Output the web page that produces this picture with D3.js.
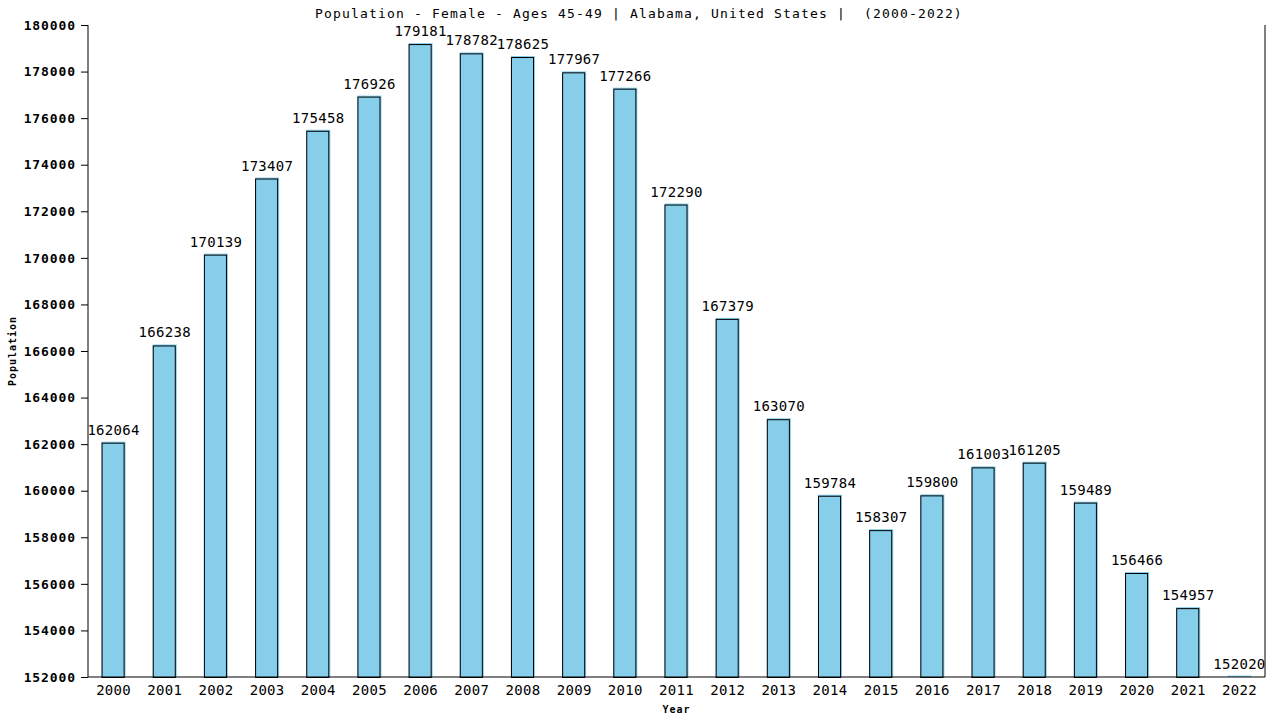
<!DOCTYPE html>
<html>
<head>
<meta charset="utf-8">
<script src="https://cdn.jsdelivr.net/npm/d3@7"></script>
<style>
  body { margin: 0; background: #fff; }
  text { font-family: "DejaVu Sans Mono", monospace; }
</style>
</head>
<body>
<div id="chart"></div>
<script>
// Chart data
const years = ["2000", "2001", "2002", "2003", "2004", "2005", "2006", "2007", "2008", "2009", "2010", "2011",
    "2012", "2013", "2014", "2015", "2016", "2017", "2018", "2019", "2020", "2021", "2022"];
const population = [162064, 166238, 170139, 173407, 175458, 176926, 179181, 178782, 178625, 177967, 177266, 172290,
    167379, 163070, 159784, 158307, 159800, 161003, 161205, 159489, 156466, 154957, 152020];
const yTicks = [152000, 154000, 156000, 158000, 160000, 162000, 164000, 166000, 168000, 170000, 172000, 174000,
    176000, 178000, 180000];

const width = 1280;
const height = 720;
const margin = { top: 25, right: 15, bottom: 43, left: 88 };

const svg = d3.select("#chart")
    .append("svg")
    .attr("width", width)
    .attr("height", height);

const x = d3.scaleBand()
    .domain(years)
    .range([margin.left, width - margin.right])
    .paddingInner(0.53)
    .paddingOuter(0.265);

const y = d3.scaleLinear()
    .domain([152000, 180000])
    .range([height - margin.bottom, margin.top]);

const data = years.map((yr, i) => ({ year: yr, value: population[i] }));

// Bars: blue fill with a black outline sitting slightly inside
svg.selectAll("rect.bar")
    .data(data)
    .enter()
    .append("rect")
    .attr("class", "bar")
    .attr("x", d => x(d.year))
    .attr("y", d => y(d.value) - 1)
    .attr("width", x.bandwidth())
    .attr("height", d => y(152000) - y(d.value) + 1)
    .attr("fill", "#87CEEB");

svg.selectAll("rect.outline")
    .data(data.filter(d => y(152000) - y(d.value) > 2))
    .enter()
    .append("rect")
    .attr("class", "outline")
    .attr("x", d => x(d.year) + 0.5)
    .attr("y", d => y(d.value) + 0.5)
    .attr("width", x.bandwidth() - 2)
    .attr("height", d => y(152000) - y(d.value))
    .attr("fill", "none")
    .attr("stroke", "#000")
    .attr("stroke-width", 1);

// Value labels
svg.selectAll("text.value")
    .data(data)
    .enter()
    .append("text")
    .attr("class", "value")
    .attr("x", d => x(d.year) + x.bandwidth() / 2)
    .attr("y", d => y(d.value) - 8)
    .attr("text-anchor", "middle")
    .attr("font-size", "14px")
    .attr("letter-spacing", "0.3px")
    .attr("fill", "#000")
    .text(d => d.value);

// Y axis
const yAxis = svg.append("g")
    .attr("transform", `translate(${margin.left},0)`)
    .call(d3.axisLeft(y).tickValues(yTicks).tickFormat(d3.format("d")).tickSize(7).tickPadding(5));
yAxis.select(".domain").attr("d", `M0,${y(180000)}V${y(152000)}`);
yAxis.selectAll("text")
    .attr("font-family", "DejaVu Sans Mono")
    .attr("font-size", "13px")
    .attr("font-weight", "bold")
    .attr("letter-spacing", "0.9px")
    .attr("fill", "#000");

// Right border
svg.append("line")
    .attr("x1", width - margin.right)
    .attr("x2", width - margin.right)
    .attr("y1", y(180000))
    .attr("y2", y(152000))
    .attr("stroke", "#000");

// X axis
const xAxis = svg.append("g")
    .attr("transform", `translate(0,${height - margin.bottom})`)
    .call(d3.axisBottom(x).tickSize(0).tickPadding(8));
xAxis.select(".domain").attr("d", `M${margin.left},0H${width - margin.right}`);
xAxis.selectAll("text")
    .attr("font-family", "DejaVu Sans Mono")
    .attr("font-size", "14px")
    .attr("letter-spacing", "0.3px")
    .attr("fill", "#000");

// Title
svg.append("text")
    .attr("x", 639)
    .attr("y", 18)
    .attr("text-anchor", "middle")
    .attr("font-size", "13px")
    .attr("letter-spacing", "1.17px")
    .attr("xml:space", "preserve")
    .style("white-space", "pre")
    .text("Population - Female - Ages 45-49 | Alabama, United States |  (2000-2022)");

// Axis titles
svg.append("text")
    .attr("transform", `translate(16,${(margin.top + height - margin.bottom) / 2}) rotate(-90)`)
    .attr("text-anchor", "middle")
    .attr("font-size", "10px")
    .attr("font-weight", "bold")
    .attr("letter-spacing", "1px")
    .text("Population");

svg.append("text")
    .attr("x", (margin.left + width - margin.right) / 2)
    .attr("y", 713)
    .attr("text-anchor", "middle")
    .attr("font-size", "10px")
    .attr("font-weight", "bold")
    .attr("letter-spacing", "1px")
    .text("Year");
</script>
</body>
</html>
